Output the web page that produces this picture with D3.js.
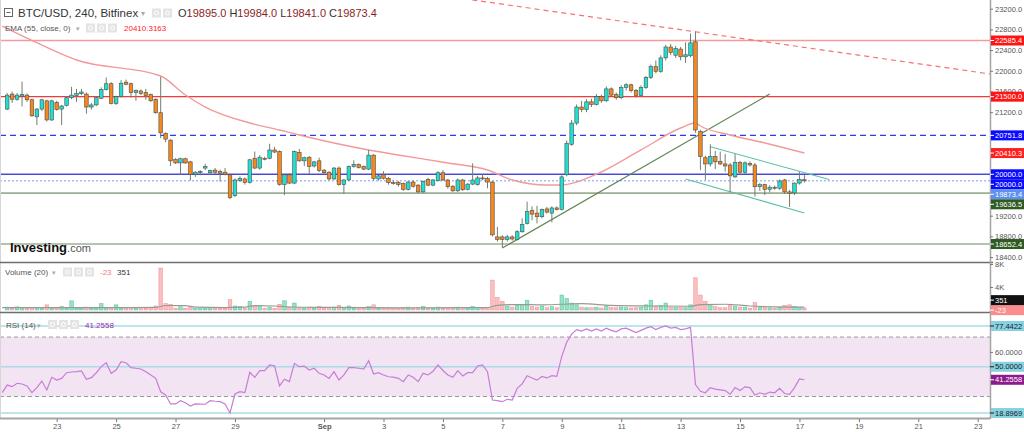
<!DOCTYPE html>
<html>
<head>
<meta charset="utf-8">
<script src="https://cdn.jsdelivr.net/npm/d3@7"></script>
<style>
  body { margin: 0; background: #fff; }
  svg { display: block; font-family: "Liberation Sans", Arial, sans-serif; }
</style>
</head>
<body>
<script>
// BTC/USD 4h candles, Aug 21 08:00 -> Sep 17 04:00 (Bitfinex)
const firstBar = Date.UTC(2022, 7, 21, 8);
const barMs = 4 * 3600 * 1000;

const opens = [
  21260, 21550, 21450, 21510, 21530, 21440, 21110, 21260, 21420, 21050,
  21390, 21260, 21330, 21480, 21520, 21560, 21550, 21300, 21340, 21470,
  21640, 21750, 21370, 21500, 21780, 21750, 21580, 21610, 21580, 21540,
  21450, 21190, 20790, 20660, 20290, 20220, 20300, 20240, 20000, 20040,
  20120, 20030, 20080, 20050, 20040, 19990, 19590, 19880, 19910, 19840,
  20310, 20120, 20310, 20310, 20470, 20440, 19800, 19990, 19830, 20420,
  20260, 20330, 20160, 20260, 20080, 20040, 19910, 20120, 19800, 19890,
  20150, 20190, 20150, 20100, 20370, 19910, 19990, 19920, 19840, 19840,
  19820, 19710, 19850, 19790, 19660, 19900, 19790, 19880, 20030, 19890,
  19770, 19680, 19890, 19710, 19810, 19800, 19930, 19920, 19850, 18790,
  18790, 18740, 18790, 18740, 18890, 19050, 19300, 19250, 19180, 19330,
  19250, 19350, 19320, 19990, 20580, 20990, 21300, 21250, 21400, 21350,
  21500, 21420, 21650, 21540, 21480, 21680, 21730, 21620, 21520, 21680,
  21870, 22080, 21990, 22250, 22460, 22300, 22420, 22270, 22290, 22560,
  20830, 20320, 20200, 20340, 20250, 20200, 20180, 19950, 20230, 20040,
  20210, 20180, 19760, 19800, 19710, 19750, 19730, 19890, 19660, 19640,
  19830, 19895
];
const highs = [
  21570, 21600, 21570, 21790, 21560, 21460, 21280, 21460, 21440, 21440,
  21420, 21340, 21500, 21690, 21650, 21650, 21580, 21380, 21500, 21680,
  21870, 21780, 21520, 21820, 21830, 21770, 21640, 21640, 21650, 21560,
  21470, 21885, 20810, 20680, 20310, 20320, 20320, 20260, 20060, 20080,
  20200, 20090, 20120, 20090, 20120, 20010, 19920, 19960, 19940, 20300,
  20440, 20370, 20340, 20590, 20530, 20460, 20010, 20020, 20460, 20490,
  20340, 20350, 20260, 20320, 20100, 20060, 20140, 20150, 19910, 20170,
  20270, 20210, 20170, 20470, 20390, 19990, 20060, 19950, 19880, 19870,
  19840, 19870, 19880, 19810, 19880, 19930, 19910, 20060, 20080, 19910,
  19790, 19920, 19910, 19830, 20210, 19970, 20000, 19950, 19870, 18980,
  18820, 18830, 18820, 18920, 19150, 19470, 19380, 19390, 19340, 19370,
  19380, 19380, 19980, 20650, 21050, 21350, 21420, 21450, 21460, 21550,
  21540, 21700, 21680, 21580, 21720, 21760, 21750, 21650, 21720, 21900,
  22120, 22200, 22300, 22500, 22520, 22480, 22460, 22550, 22720, 22760,
  20860, 20360, 20580, 20450, 20440, 20390, 20220, 20390, 20260, 20250,
  20250, 20220, 19830, 19820, 19790, 19780, 19900, 19910, 19700, 19840,
  20050, 19984
];
const lows = [
  21240, 21380, 21420, 21310, 21400, 21110, 20950, 21220, 21020, 21030,
  21230, 20950, 21310, 21450, 21400, 21530, 21170, 21250, 21320, 21450,
  21620, 21350, 21340, 21480, 21720, 21480, 21420, 21530, 21440, 21400,
  21170, 20700, 20620, 20160, 20200, 19990, 20200, 19880, 19950, 19980,
  20080, 19990, 20010, 19860, 19980, 19520, 19560, 19850, 19800, 19820,
  20100, 20090, 20270, 20290, 20410, 19780, 19600, 19810, 19810, 20240,
  20160, 20000, 20130, 20040, 20010, 19880, 19890, 19780, 19620, 19870,
  20130, 20110, 20080, 20080, 19880, 19880, 19900, 19800, 19800, 19760,
  19680, 19690, 19740, 19640, 19640, 19770, 19770, 19860, 19870, 19720,
  19660, 19660, 19680, 19690, 19790, 19780, 19890, 19730, 18800, 18700,
  18580, 18700, 18720, 18720, 18870, 19030, 19110, 19050, 19150, 19240,
  19070, 19300, 19300, 19960, 20550, 20950, 21200, 21200, 21300, 21330,
  21380, 21400, 21500, 21440, 21450, 21620, 21580, 21480, 21500, 21650,
  21840, 21950, 21960, 22200, 22300, 22250, 22200, 22150, 22260, 20800,
  20080, 19890, 20150, 20100, 20180, 20050, 19650, 19930, 20000, 20000,
  20150, 19570, 19680, 19600, 19650, 19700, 19700, 19620, 19370, 19600,
  19800, 19841
];
const closes = [
  21530, 21450, 21530, 21540, 21440, 21130, 21260, 21440, 21050, 21420,
  21250, 21320, 21480, 21530, 21560, 21590, 21300, 21340, 21480, 21640,
  21750, 21370, 21500, 21760, 21740, 21580, 21620, 21560, 21520, 21420,
  21190, 20800, 20680, 20260, 20220, 20300, 20220, 20000, 20040, 20050,
  20150, 20070, 20040, 20020, 19995, 19550, 19890, 19920, 19840, 20280,
  20120, 20330, 20290, 20470, 20430, 19800, 19990, 19830, 20440, 20260,
  20320, 20150, 20240, 20070, 20030, 19910, 20120, 19800, 19890, 20150,
  20190, 20130, 20100, 20370, 19920, 19970, 19920, 19840, 19830, 19800,
  19710, 19850, 19770, 19660, 19860, 19790, 19890, 20030, 19890, 19760,
  19680, 19890, 19700, 19810, 19890, 19930, 19910, 19850, 18830, 18740,
  18740, 18790, 18750, 18890, 19030, 19280, 19230, 19180, 19320, 19270,
  19350, 19320, 19950, 20600, 20990, 21300, 21250, 21400, 21350, 21500,
  21420, 21650, 21530, 21480, 21680, 21730, 21620, 21520, 21680, 21870,
  22080, 21990, 22250, 22460, 22350, 22430, 22270, 22310, 22540, 20856,
  20340, 20200, 20340, 20240, 20200, 20160, 19970, 20230, 20040, 20220,
  20180, 19760, 19800, 19710, 19750, 19730, 19870, 19660, 19630, 19830,
  19900, 19873.4
];
const volumes = [
  500, 300, 550, 400, 300, 450,   400, 350, 900, 350, 300, 600,
  300, 1600, 350, 300, 500, 300,  350, 1100, 450, 450, 900, 300,
  250, 400, 350, 250, 300, 400,   700, 7300, 1100, 1000, 300, 550,
  300, 500, 250, 250, 300, 250,   300, 350, 300, 1800, 700, 600,
  300, 1500, 700, 800, 300, 500,  300, 1000, 1600, 500, 1200, 400,
  300, 500, 300, 600, 300, 400,   500, 800, 400, 700, 300, 300,
  300, 600, 900, 300, 300, 400,   250, 300, 450, 500, 300, 400,
  600, 350, 300, 500, 350, 400,   400, 500, 450, 300, 600, 400,
  300, 400, 5200, 2200, 1500, 700, 500, 800, 1000, 1700, 600, 500,
  700, 400, 600, 400, 2600, 2000, 1200, 900, 500, 400, 400, 500,
  350, 700, 450, 400, 500, 400,   350, 400, 500, 900, 1700, 700,
  800, 1200, 500, 450, 500, 400,  900, 5600, 2600, 1500, 900, 600,
  400, 400, 900, 700, 500, 500,   300, 1300, 500, 600, 400, 300,
  500, 800, 900, 600, 450, 351
];

// EMA(55) at a few bars
const emaBar = [-1, 4, 14, 31, 36, 40, 49, 55, 59, 73, 79, 89, 97, 102, 109, 112, 115, 120, 128, 136, 139, 140, 146, 153, 161];
const emaValue = [22865, 22633, 22208, 21899, 21532, 21300, 20991, 20856, 20759, 20470, 20373, 20218, 20083, 19890, 19793, 19793, 19851, 20044, 20470, 20894, 20991, 20933, 20759, 20605, 20410.3163];

// volume MA(20)
const volMaBar = [-1, 10, 25, 30, 32, 36, 38, 44, 48, 50, 54, 57, 65, 80, 95, 97, 99, 103, 108, 112, 116, 122, 130, 138, 140, 145, 150, 155, 161];
const volMaValue = [420, 420, 420, 450, 780, 760, 500, 420, 500, 750, 700, 520, 450, 380, 400, 420, 800, 950, 900, 1000, 1100, 800, 700, 650, 950, 1000, 700, 550, 500];

// RSI(14)
const rsiBar = [
  -1, 0, 1, 2, 3, 4, 5, 6, 7, 8, 9, 10, 11, 12, 13, 14, 15, 16, 17, 18, 19,
  20, 21, 22, 23, 24, 25, 26, 27, 28, 29, 30, 31, 32, 33, 34, 35, 36, 37, 38, 39,
  40, 41, 42, 43, 44, 45, 46, 47, 48, 49, 50, 51, 52, 53, 54, 55, 56, 57, 58, 59,
  60, 61, 62, 63, 64, 65, 66, 67, 68, 69, 70, 71, 72, 73, 74, 75, 76, 77, 78, 79,
  80, 81, 82, 83, 84, 85, 86, 87, 88, 89, 90, 91, 92, 93, 94, 95, 96, 97, 98, 99,
  100, 101, 102, 103, 104, 105, 106, 107, 108, 109, 110, 111, 112, 113, 114, 115, 116, 117, 118, 119,
  120, 121, 122, 123, 124, 125, 126, 127, 128, 129, 130, 131, 132, 133, 134, 135, 136, 137, 138, 139,
  140, 141, 142, 143, 144, 145, 146, 147, 148, 149, 150, 151, 152, 153, 154, 155, 156, 157, 158, 159,
  160, 161
];
const rsiValue = [
  32.6, 37.7, 36.6, 38.9, 38.4, 37.1, 32.6, 36.0, 40.4, 34.4, 42.9, 41.1, 42.2, 46.0, 46.5, 46.8, 47.2, 41.6, 42.7, 46.0, 50.1,
  52.7, 45.6, 47.8, 53.4, 52.7, 49.4, 49.0, 48.5, 46.7, 44.5, 42.2, 33.2, 31.0, 25.0, 25.0, 27.2, 25.8, 23.6, 25.0, 24.9,
  24.8, 27.2, 26.8, 26.5, 25.0, 18.8969, 31.7, 33.2, 32.6, 46.3, 42.9, 47.4, 47.4, 51.2, 50.7, 37.1, 41.6, 40.0, 52.3, 50.1,
  50.5, 47.8, 49.0, 45.6, 44.5, 42.2, 46.7, 41.1, 44.5, 49.4, 49.4, 49.0, 48.5, 54.1, 45.1, 46.0, 44.5, 43.3, 43.0, 42.2,
  40.0, 44.5, 42.9, 40.0, 45.6, 44.5, 47.0, 51.2, 47.5, 44.5, 42.9, 47.4, 43.8, 46.0, 46.0, 50.5, 51.2, 46.7, 27.6, 27.2,
  26.5, 28.1, 27.6, 35.5, 38.5, 44.0, 42.5, 41.0, 43.5, 42.5, 44.0, 43.5, 57.0, 66.5, 72.0, 75.0, 74.0, 75.5, 74.0, 75.5,
  74.0, 76.0, 74.5, 73.5, 75.5, 76.0, 74.5, 73.0, 74.5, 76.0, 77.0, 75.0, 76.5, 77.4422, 76.0, 76.5, 75.0, 75.5, 76.5, 38.0,
  33.5, 32.5, 36.0, 35.0, 34.5, 34.0, 31.5, 36.0, 34.0, 36.5, 36.0, 31.0, 32.5, 31.5, 33.0, 32.5, 35.5, 32.0, 31.5, 36.0,
  41.8, 41.2558
];

// horizontal levels and trend lines drawn on the chart
const levelValues = [22585.4, 21500, 20751.8, 20000, 20000, 19636.5, 18652.4];
const redTrendBar = [97, 139];
const redTrendPrice = [23328, 22753];
const greenTrendBar = [100, 154];
const greenTrendPrice = [18576, 21551];
const channelTopBar = [142, 166];
const channelTopPrice = [20533, 19900];
const channelBotBar = [137, 161];
const channelBotPrice = [19909, 19252];

// axis ticks
const priceTicks = d3.range(18400, 23201, 400);
const volTicks = [4000, 8000];
const rsiTicks = [20, 40, 60, 80];
const dayTicks = ["2022-08-23", "2022-08-25", "2022-08-27", "2022-08-29", "2022-09-01", "2022-09-03",
  "2022-09-05", "2022-09-07", "2022-09-09", "2022-09-11", "2022-09-13", "2022-09-15",
  "2022-09-17", "2022-09-19", "2022-09-21", "2022-09-23"];
const dayLabels = ["23", "25", "27", "29", "Sep", "3", "5", "7", "9", "11", "13", "15", "17", "19", "21", "23"];

// ---- layout ----
const width = 1024, height = 432;
const axisX = 990;
const mainBottom = 262, volTop = 263, volBottom = 312, rsiTop = 313, rsiBottom = 418;

let svg = d3.select("body").append("svg")
  .attr("width", width).attr("height", height);

svg.append("rect").attr("width", width).attr("height", height).attr("fill", "#fff");

let defs = svg.append("defs");
[["clipMain", 0, 0, axisX, mainBottom], ["clipVol", 0, volTop, axisX, volBottom - volTop],
 ["clipRsi", 0, rsiTop, axisX, rsiBottom - rsiTop]].forEach(c => {
  defs.append("clipPath").attr("id", c[0]).append("rect")
    .attr("x", c[1]).attr("y", c[2]).attr("width", c[3]).attr("height", c[4]);
});

let xScale = d3.scaleUtc()
  .domain([new Date(Date.UTC(2022, 7, 23)), new Date(Date.UTC(2022, 8, 23))])
  .range([56.7, 977.7]);
let xBar = (i) => xScale(new Date(firstBar + i * barMs));

let yPrice = d3.scaleLinear().domain([18305, 23368]).range([mainBottom, 0]);
let yVol = d3.scaleLinear().domain([0, 8000]).range([310, 264]);
let yRsi = d3.scaleLinear().domain([18.8969, 77.4422]).range([413, 326]);

let bars = d3.range(opens.length);

// ---- RSI pane backdrop ----
let gRsi = svg.append("g").attr("clip-path", "url(#clipRsi)");
gRsi.append("rect")
  .attr("x", 0).attr("width", axisX)
  .attr("y", yRsi(70)).attr("height", yRsi(30) - yRsi(70))
  .attr("fill", "#f3e4f3");
[70, 30].forEach(v => {
  gRsi.append("line").attr("x1", 0).attr("x2", axisX)
    .attr("y1", yRsi(v)).attr("y2", yRsi(v))
    .attr("stroke", "#999").attr("stroke-dasharray", "4,3");
});
[77.4422, 50, 18.8969].forEach(v => {
  gRsi.append("line").attr("x1", 0).attr("x2", axisX)
    .attr("y1", yRsi(v)).attr("y2", yRsi(v))
    .attr("stroke", "#a9dce6").attr("stroke-width", 1.5);
});
gRsi.append("path")
  .datum(d3.range(rsiBar.length))
  .attr("fill", "none").attr("stroke", "#c77dd6").attr("stroke-width", 1.2)
  .attr("d", d3.line().x(k => xBar(rsiBar[k])).y(k => yRsi(rsiValue[k])));

// ---- volume pane ----
let gVol = svg.append("g").attr("clip-path", "url(#clipVol)");
gVol.selectAll(".vbar").data(bars).enter().append("rect")
  .attr("x", i => xBar(i) - 1.8).attr("width", 3.6)
  .attr("y", i => yVol(volumes[i]))
  .attr("height", i => yVol(0) - yVol(volumes[i]))
  .attr("fill", i => closes[i] >= opens[i] ? "rgba(60,205,150,0.55)" : "rgba(245,130,130,0.5)")
  .attr("stroke", i => closes[i] >= opens[i] ? "rgba(40,170,120,0.6)" : "rgba(235,110,110,0.6)")
  .attr("stroke-width", 0.6);
gVol.append("path")
  .datum(d3.range(volMaBar.length))
  .attr("fill", "none").attr("stroke", "#999").attr("stroke-width", 1.2)
  .attr("d", d3.line().curve(d3.curveMonotoneX)
    .x(k => xBar(volMaBar[k])).y(k => yVol(volMaValue[k])));

// ---- main pane ----
let gMain = svg.append("g").attr("clip-path", "url(#clipMain)");

let levelStyle = [
  { c: "#f39a9a", w: 1.6, dash: null },
  { c: "#f23a3a", w: 1.1, dash: null },
  { c: "#2d3cf2", w: 1.2, dash: "6,4" },
  { c: "#3b3bd6", w: 1.1, dash: null },
  { c: "#3b3bd6", w: 1.1, dash: null },
  { c: "#9cae92", w: 1.6, dash: null },
  { c: "#6c8a5e", w: 1.2, dash: null }
];
levelValues.forEach((v, k) => {
  gMain.append("line").attr("x1", 0).attr("x2", axisX)
    .attr("y1", yPrice(v)).attr("y2", yPrice(v))
    .attr("stroke", levelStyle[k].c).attr("stroke-width", levelStyle[k].w)
    .attr("stroke-dasharray", levelStyle[k].dash);
});

// last price line
gMain.append("line").attr("x1", 0).attr("x2", axisX)
  .attr("y1", yPrice(closes[closes.length - 1])).attr("y2", yPrice(closes[closes.length - 1]))
  .attr("stroke", "#7d9cf2").attr("stroke-dasharray", "2,2");

// trend lines
function trend(barsAB, pricesAB, color, opts) {
  let x1 = xBar(barsAB[0]), y1 = yPrice(pricesAB[0]);
  let x2 = xBar(barsAB[1]), y2 = yPrice(pricesAB[1]);
  if (opts.extend) {
    let slope = (y2 - y1) / (x2 - x1);
    y1 = y1 + (0 - x1) * slope; x1 = 0;
    y2 = y2 + (axisX - x2) * slope; x2 = axisX;
  }
  gMain.append("line").attr("x1", x1).attr("y1", y1).attr("x2", x2).attr("y2", y2)
    .attr("stroke", color).attr("stroke-width", opts.w || 1)
    .attr("stroke-dasharray", opts.dash || null);
}
trend(redTrendBar, redTrendPrice, "#f77272", { extend: true, dash: "5,4", w: 1.2 });
trend(greenTrendBar, greenTrendPrice, "#5f8552", { w: 1.2 });
trend(channelTopBar, channelTopPrice, "#5cbfa5", { w: 1.1 });
trend(channelBotBar, channelBotPrice, "#5cbfa5", { w: 1.1 });

// EMA
gMain.append("path")
  .datum(d3.range(emaBar.length))
  .attr("fill", "none").attr("stroke", "#f29a9a").attr("stroke-width", 1.4)
  .attr("d", d3.line().curve(d3.curveMonotoneX)
    .x(k => xBar(emaBar[k])).y(k => yPrice(emaValue[k])));

// candles
gMain.selectAll(".wick").data(bars).enter().append("line")
  .attr("x1", i => xBar(i)).attr("x2", i => xBar(i))
  .attr("y1", i => yPrice(highs[i])).attr("y2", i => yPrice(lows[i]))
  .attr("stroke", "#6f7f6f").attr("stroke-width", 1);
gMain.selectAll(".body").data(bars).enter().append("rect")
  .attr("x", i => xBar(i) - 1.8).attr("width", 3.6)
  .attr("y", i => yPrice(Math.max(opens[i], closes[i])))
  .attr("height", i => Math.max(1, Math.abs(yPrice(opens[i]) - yPrice(closes[i]))))
  .attr("fill", i => closes[i] >= opens[i] ? "#1fe0cf" : "#f5871c")
  .attr("stroke", "#4d4d4d").attr("stroke-width", 0.6);

// Investing.com logo
let logo = svg.append("text").attr("x", 10).attr("y", 252);
logo.append("tspan").text("Investing").attr("font-size", 13).attr("font-weight", "bold").attr("fill", "#111");
logo.append("tspan").text(".com").attr("font-size", 11).attr("fill", "#555");

// ---- frame lines ----
svg.append("line").attr("x1", 0.5).attr("x2", 0.5).attr("y1", 0).attr("y2", rsiBottom)
  .attr("stroke", "#d6d6d6");
[mainBottom + 0.5, volBottom + 0.5].forEach(y => {
  svg.append("line").attr("x1", 0).attr("x2", axisX + 3).attr("y1", y).attr("y2", y)
    .attr("stroke", "#6e6e6e").attr("stroke-width", 1.5);
});
svg.append("line").attr("x1", axisX + 0.5).attr("x2", axisX + 0.5).attr("y1", 0).attr("y2", rsiBottom + 1)
  .attr("stroke", "#a5a5a5").attr("stroke-width", 1.5);
svg.append("line").attr("x1", 0).attr("x2", axisX).attr("y1", rsiBottom + 0.5).attr("y2", rsiBottom + 0.5)
  .attr("stroke", "#a5a5a5").attr("stroke-width", 2);

// ---- value labels on the right scale (placed first, ticks under them are dropped) ----
let priceLabels = [
  { v: 22585.4, bg: "#ff1414", fg: "#fff" },
  { v: 21500, bg: "#ff1414", fg: "#fff" },
  { v: 20751.8, bg: "#0a0aff", fg: "#fff" },
  { v: emaValue[emaValue.length - 1], bg: "#ff2020", fg: "#fff" },
  { v: 20000, bg: "#0a0aff", fg: "#fff" },
  { v: 20000, bg: "#0a0aff", fg: "#fff" },
  { v: closes[closes.length - 1], bg: "#5d8ff0", fg: "#fff" },
  { v: 19636.5, bg: "#2f5a24", fg: "#fff" },
  { v: 18652.4, bg: "#2f5a24", fg: "#fff" }
];
let prevY = -100;
priceLabels.forEach(l => {
  l.y = Math.max(yPrice(l.v), prevY + 10);
  l.text = l.v.toFixed(1);
  prevY = l.y;
});

let volLabels = [
  { v: -23, text: "-23", bg: "#fa8e8e", fg: "#fff" },
  { v: 351, text: "351", bg: "#111", fg: "#fff" }
];
let lowY = 1000;
volLabels.forEach(l => {
  l.y = Math.min(yVol(l.v), lowY - 10);
  lowY = l.y;
});

let rsiLabels = [
  { v: 77.4422, bg: "#86d2e2", fg: "#1a1a1a" },
  { v: 50, bg: "#86d2e2", fg: "#1a1a1a" },
  { v: rsiValue[rsiValue.length - 1], bg: "#8c1c8c", fg: "#fff" },
  { v: 18.8969, bg: "#86d2e2", fg: "#1a1a1a" }
];
rsiLabels.forEach(l => { l.y = yRsi(l.v); l.text = l.v.toFixed(4); });

let allLabels = priceLabels.concat(volLabels, rsiLabels);
let visibleTicks = (ticks, scale) =>
  ticks.filter(t => allLabels.every(l => Math.abs(l.y - scale(t)) >= 4));

// ---- axes ----
function styleAxis(g) {
  g.select(".domain").remove();
  g.selectAll(".tick line").attr("stroke", "#777");
  g.selectAll(".tick text").attr("fill", "#555").attr("font-size", 7.5)
    .attr("font-family", "Liberation Sans, Arial, sans-serif");
}
svg.append("g").attr("transform", `translate(${axisX},0)`)
  .call(d3.axisRight(yPrice).tickValues(visibleTicks(priceTicks, yPrice)).tickSize(3).tickPadding(2).tickFormat(d3.format(".1f")))
  .call(styleAxis);
svg.append("g").attr("transform", `translate(${axisX},0)`)
  .call(d3.axisRight(yVol).tickValues(volTicks).tickSize(3).tickPadding(2).tickFormat(d => d / 1000 + "K"))
  .call(styleAxis);
svg.append("g").attr("transform", `translate(${axisX},0)`)
  .call(d3.axisRight(yRsi).tickValues(visibleTicks(rsiTicks, yRsi)).tickSize(3).tickPadding(2).tickFormat(d3.format(".4f")))
  .call(styleAxis);
let xAxis = svg.append("g").attr("transform", `translate(0,${rsiBottom + 1})`)
  .call(d3.axisBottom(xScale).tickValues(dayTicks.map(d => new Date(d + "T00:00:00Z")))
    .tickSize(3).tickPadding(2).tickFormat((d, k) => dayLabels[k]))
  .call(styleAxis);
xAxis.selectAll(".tick text").attr("font-size", 7.5)
  .attr("font-weight", (d, k) => dayLabels[k] === "Sep" ? "bold" : null);

function drawLabel(l) {
  let g = svg.append("g");
  g.append("rect").attr("x", axisX + 1).attr("y", l.y - 5).attr("width", width - axisX - 1).attr("height", 10)
    .attr("fill", l.bg);
  g.append("line").attr("x1", axisX).attr("x2", axisX + 4).attr("y1", l.y).attr("y2", l.y).attr("stroke", l.fg);
  g.append("text").attr("x", axisX + 5).attr("y", l.y).attr("dy", "0.35em")
    .attr("font-size", 7.5).attr("fill", l.fg).text(l.text);
}
allLabels.forEach(drawLabel);

// ---- pane headers ----
function icons(x, y, n) {
  for (let k = 0; k < n; k++) {
    svg.append("rect").attr("x", x + k * 11).attr("y", y).attr("width", 9).attr("height", 9)
      .attr("fill", "#e4e4e4");
    svg.append("circle").attr("cx", x + k * 11 + 4.5).attr("cy", y + 4.5).attr("r", 2)
      .attr("fill", "none").attr("stroke", "#fff").attr("stroke-width", 1);
  }
}

// title row
svg.append("rect").attr("x", 4.5).attr("y", 8.5).attr("width", 8).attr("height", 8)
  .attr("fill", "none").attr("stroke", "#666");
svg.append("line").attr("x1", 6.5).attr("x2", 10.5).attr("y1", 12.5).attr("y2", 12.5).attr("stroke", "#666");
svg.append("text").attr("x", 18).attr("y", 17).attr("font-size", 11.5).attr("fill", "#333")
  .text("BTC/USD, 240, Bitfinex");
svg.append("text").attr("x", 141).attr("y", 16).attr("font-size", 8).attr("fill", "#aaa").text("▾");
icons(152, 8.5, 2);
let ohlc = svg.append("text").attr("x", 178).attr("y", 17).attr("font-size", 11)
  .attr("xml:space", "preserve");
[["O", opens], ["H", highs], ["L", lows], ["C", closes]].forEach((p, k) => {
  let last = p[1][p[1].length - 1];
  ohlc.append("tspan").attr("fill", "#333").text((k ? " " : "") + p[0]);
  ohlc.append("tspan").attr("fill", "#8b1e1e").text(last.toFixed(1));
});

// EMA row
svg.append("text").attr("x", 5).attr("y", 31).attr("font-size", 8).attr("fill", "#555")
  .text("EMA (55, close, 0)");
svg.append("text").attr("x", 76).attr("y", 31).attr("font-size", 7).attr("fill", "#aaa").text("▾");
icons(86, 23.5, 3);
svg.append("text").attr("x", 124).attr("y", 31).attr("font-size", 8).attr("fill", "#ff2020")
  .text(emaValue[emaValue.length - 1].toFixed(4));

// volume row
svg.append("text").attr("x", 5).attr("y", 275).attr("font-size", 8).attr("fill", "#555").text("Volume (20)");
svg.append("text").attr("x", 52).attr("y", 275).attr("font-size", 7).attr("fill", "#aaa").text("▾");
icons(63, 267.5, 3);
svg.append("text").attr("x", 100).attr("y", 275).attr("font-size", 8).attr("fill", "#f27c7c").text("-23");
svg.append("text").attr("x", 117).attr("y", 275).attr("font-size", 8).attr("fill", "#333")
  .text(volumes[volumes.length - 1]);

// RSI row
svg.append("text").attr("x", 6).attr("y", 327.5).attr("font-size", 8).attr("fill", "#555").text("RSI (14)");
svg.append("text").attr("x", 37).attr("y", 327.5).attr("font-size", 7).attr("fill", "#aaa").text("▾");
icons(48, 320, 3);
svg.append("text").attr("x", 85).attr("y", 327.5).attr("font-size", 8).attr("fill", "#9c27b0")
  .text(rsiValue[rsiValue.length - 1].toFixed(4));
</script>
</body>
</html>
